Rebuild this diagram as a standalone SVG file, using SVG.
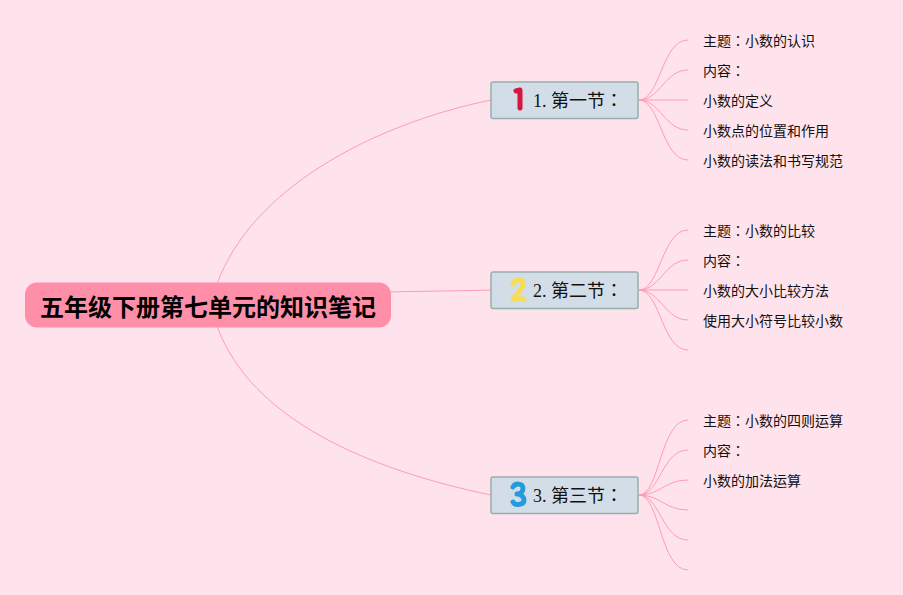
<svg xmlns="http://www.w3.org/2000/svg" width="903" height="595" viewBox="0 0 903 595">
<style>
.c{fill:none;stroke:#ff9bb3;stroke-width:1}
.b{fill:#d3dde8;stroke:#97b0ac;stroke-width:1.5}
.t{font-family:"Liberation Serif","Noto Sans CJK TC",serif;font-size:18px;fill:#111}
.l{font-family:"Liberation Serif","Noto Sans CJK TC",serif;font-size:14px;fill:#111}
.r{font-family:"Liberation Sans","Noto Sans CJK SC",sans-serif;font-size:24px;font-weight:700;fill:#000}
.i{fill:none;stroke-linecap:round;stroke-linejoin:round;stroke-width:5}
</style>
<rect width="903" height="595" fill="#ffe3ec"/>
<g id="connectors">
<path class="c" d="M217 284C251 190 370 125 491 100"/>
<path class="c" d="M390 292C425 291 460 291 491 290"/>
<path class="c" d="M217 326C251 420 370 470 491 495"/>
<path class="c" d="M639 100C660 100 662 40 688 40"/>
<path class="c" d="M639 100C660 100 665 70 688 70"/>
<path class="c" d="M639 100H688"/>
<path class="c" d="M639 100C660 100 665 130 688 130"/>
<path class="c" d="M639 100C660 100 662 160 688 160"/>
<path class="c" d="M639 290C660 290 662 230 688 230"/>
<path class="c" d="M639 290C660 290 665 260 688 260"/>
<path class="c" d="M639 290H688"/>
<path class="c" d="M639 290C660 290 665 320 688 320"/>
<path class="c" d="M639 290C660 290 662 350 688 350"/>
<path class="c" d="M639 495C660 495 660 420 688 420"/>
<path class="c" d="M639 495C660 495 662 450 688 450"/>
<path class="c" d="M639 495C660 495 665 480 688 480"/>
<path class="c" d="M639 495C660 495 665 510 688 510"/>
<path class="c" d="M639 495C660 495 662 540 688 540"/>
<path class="c" d="M639 495C660 495 660 570 688 570"/>
</g>
<g id="root">
<rect x="25" y="282.500" width="366" height="45" rx="12" fill="#ff8fa8"/>
<text class="r" x="208" y="316" text-anchor="middle">五年级下册第七单元的知识笔记</text>
</g>
<g id="n1">
<rect class="b" x="491" y="82" width="147" height="36.500" rx="2"/>
<path class="i" stroke="#d9153f" d="M516 91L520 90V108"/>
<text class="t" x="533" y="107">1. 第一节：</text>
</g>
<g id="n2">
<rect class="b" x="491" y="272" width="147" height="36.500" rx="2"/>
<path class="i" stroke="#f5dd55" d="M513 284C514 279 523 278 523 284C523 289 516 294 513 299H524"/>
<text class="t" x="533" y="297">2. 第二节：</text>
</g>
<g id="n3">
<rect class="b" x="491" y="477" width="147" height="36.500" rx="2"/>
<path class="i" stroke="#239bdc" d="M513 487C515 483 523 483 523 488C523 492 520 494 517 494C521 494 524 497 524 500C524 505 515 506 513 502"/>
<text class="t" x="533" y="502">3. 第三节：</text>
</g>
<g id="leaves">
<text class="l" x="703" y="46">主题：小数的认识</text>
<text class="l" x="703" y="76">内容：</text>
<text class="l" x="703" y="106">小数的定义</text>
<text class="l" x="703" y="136">小数点的位置和作用</text>
<text class="l" x="703" y="166">小数的读法和书写规范</text>
<text class="l" x="703" y="236">主题：小数的比较</text>
<text class="l" x="703" y="266">内容：</text>
<text class="l" x="703" y="296">小数的大小比较方法</text>
<text class="l" x="703" y="326">使用大小符号比较小数</text>
<text class="l" x="703" y="426">主题：小数的四则运算</text>
<text class="l" x="703" y="456">内容：</text>
<text class="l" x="703" y="486">小数的加法运算</text>
</g>
</svg>
